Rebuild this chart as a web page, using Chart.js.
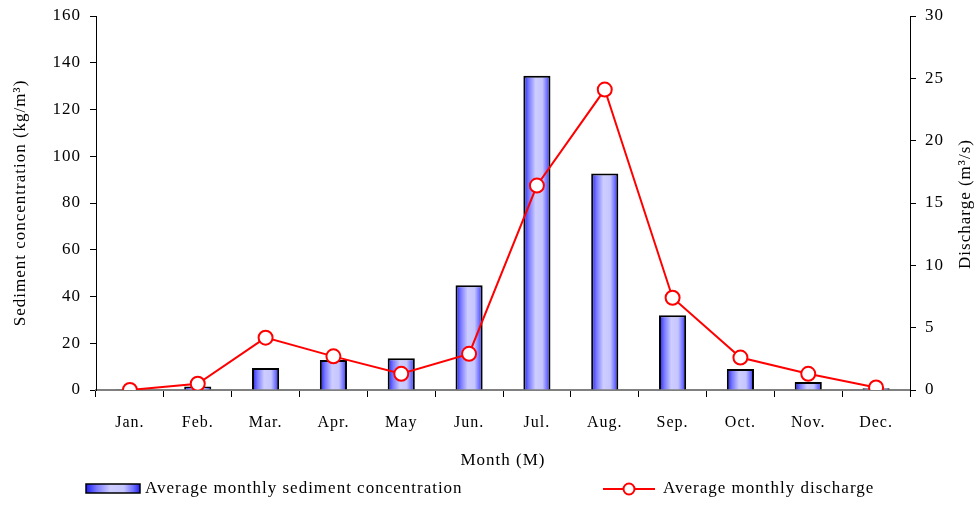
<!DOCTYPE html>
<html>
<head>
<meta charset="utf-8">
<script src="https://cdn.jsdelivr.net/npm/chart.js@4.4.0/dist/chart.umd.min.js"></script>
<style>
html, body { margin: 0; padding: 0; background: #fff; }
</style>
</head>
<body>
<canvas id="mycanvas" width="977" height="505"></canvas>
<script>
var months = ['Jan.', 'Feb.', 'Mar.', 'Apr.', 'May', 'Jun.', 'Jul.', 'Aug.', 'Sep.', 'Oct.', 'Nov.', 'Dec.'];
var sediment = [0.3, 1.5, 9.4, 12.8, 13.6, 44.8, 134.4, 92.6, 32.0, 9.0, 3.4, 0.8];
var discharge = [0.0, 0.5, 4.2, 2.7, 1.3, 2.9, 16.4, 24.1, 7.4, 2.6, 1.3, 0.2];
var sedimentLabel = 'Average monthly sediment concentration';
var dischargeLabel = 'Average monthly discharge';

var serif = '"Liberation Serif", "Times New Roman", serif';

function blueGradient(c, x0, x1) {
	var g = c.createLinearGradient(x0, 0, x1, 0);
	g.addColorStop(0, '#1c1cf5');
	g.addColorStop(0.2, '#7a7aff');
	g.addColorStop(0.45, '#cdcdff');
	g.addColorStop(0.7, '#c6c6ff');
	g.addColorStop(0.88, '#6d6dff');
	g.addColorStop(1, '#2020f0');
	return g;
}

function barFill(context) {
	var chart = context.chart;
	var xs = chart.scales.x;
	if (!xs || !chart.chartArea) return '#8080ff';
	var x = xs.getPixelForValue(context.dataIndex);
	var w = (chart.chartArea.right - chart.chartArea.left) / months.length * 0.4;
	return blueGradient(chart.ctx, x - w / 2, x + w / 2);
}

// right title reads bottom-to-top, plus the bottom legend
var extras = {
	id: 'extras',
	beforeDraw: function(chart) {
		chart.ctx.letterSpacing = '1px';
	},
	afterDraw: function(chart) {
		var c = chart.ctx;
		c.save();
		c.fillStyle = '#000';
		c.font = '17px ' + serif;
		c.letterSpacing = '1px';
		c.textBaseline = 'middle';
		c.textAlign = 'center';
		c.translate(966, 204);
		c.rotate(-Math.PI / 2);
		c.fillText('Discharge (m\u00b3/s)', 0, 0);
		c.restore();

		c.save();
		// bar swatch
		c.fillStyle = blueGradient(c, 86, 140);
		c.fillRect(86, 484, 54, 9);
		c.lineWidth = 1.5;
		c.strokeStyle = '#000';
		c.strokeRect(86, 484, 54, 9);
		// line swatch
		c.strokeStyle = '#ff0000';
		c.lineWidth = 2;
		c.beginPath();
		c.moveTo(603, 489);
		c.lineTo(655, 489);
		c.stroke();
		c.beginPath();
		c.arc(629, 489, 5.5, 0, Math.PI * 2);
		c.fillStyle = '#fff';
		c.fill();
		c.stroke();
		// texts
		c.fillStyle = '#000';
		c.font = '17px ' + serif;
		c.textBaseline = 'middle';
		c.textAlign = 'left';
		c.letterSpacing = '1px';
		c.fillText(sedimentLabel, 145, 489);
		c.fillText(dischargeLabel, 663, 489);
		c.restore();
	}
};

function fixY(width) {
	return function(s) {
		s.width = width;
		s.paddingTop = 0;
		s.paddingBottom = 0;
	};
}

var ctx = document.getElementById('mycanvas');

var chart = new Chart(ctx, {
	type: 'bar',
	data: {
		labels: months,
		datasets: [
			{
				type: 'line',
				label: dischargeLabel,
				data: discharge,
				yAxisID: 'y1',
				borderColor: '#ff0000',
				borderWidth: 2,
				pointRadius: 7,
				pointBorderWidth: 2,
				pointBackgroundColor: '#ffffff',
				pointBorderColor: '#ff0000',
				tension: 0,
				order: 0
			},
			{
				type: 'bar',
				label: sedimentLabel,
				data: sediment,
				yAxisID: 'y',
				backgroundColor: barFill,
				borderColor: '#000000',
				borderWidth: 2,
				barPercentage: 0.4,
				categoryPercentage: 1.0,
				order: 1
			}
		]
	},
	options: {
		responsive: false,
		animation: false,
		layout: { padding: { top: 16, left: 0, right: 0, bottom: 0 } },
		plugins: {
			legend: { display: false },
			tooltip: { enabled: false }
		},
		scales: {
			x: {
				grid: {
					offset: true,
					drawOnChartArea: false,
					color: '#000',
					tickLength: 7
				},
				border: { color: '#808080', width: 2 },
				ticks: {
					color: '#000',
					padding: 16,
					maxRotation: 0,
					font: { family: serif, size: 16 }
				},
				title: {
					display: true,
					text: 'Month (M)',
					color: '#000',
					font: { family: serif, size: 17 },
					padding: { top: 0, bottom: 34 }
				},
				afterFit: function(s) { s.height = 115; }
			},
			y: {
				position: 'left',
				min: 0,
				max: 160,
				ticks: {
					stepSize: 20,
					color: '#000',
					padding: 9,
					font: { family: serif, size: 17 }
				},
				grid: {
					drawOnChartArea: false,
					color: '#000',
					tickLength: 6
				},
				border: { color: '#000', width: 1 },
				title: {
					display: true,
					text: 'Sediment concentration (kg/m\u00b3)',
					color: '#000',
					font: { family: serif, size: 17 },
					padding: { top: 10, bottom: 0 }
				},
				afterFit: fixY(96)
			},
			y1: {
				position: 'right',
				min: 0,
				max: 30,
				ticks: {
					stepSize: 5,
					color: '#000',
					padding: 9,
					font: { family: serif, size: 17 }
				},
				grid: {
					drawOnChartArea: false,
					color: '#000',
					tickLength: 6
				},
				border: { color: '#000', width: 1 },
				afterFit: fixY(67)
			}
		}
	},
	plugins: [extras]
});
</script>
</body>
</html>
